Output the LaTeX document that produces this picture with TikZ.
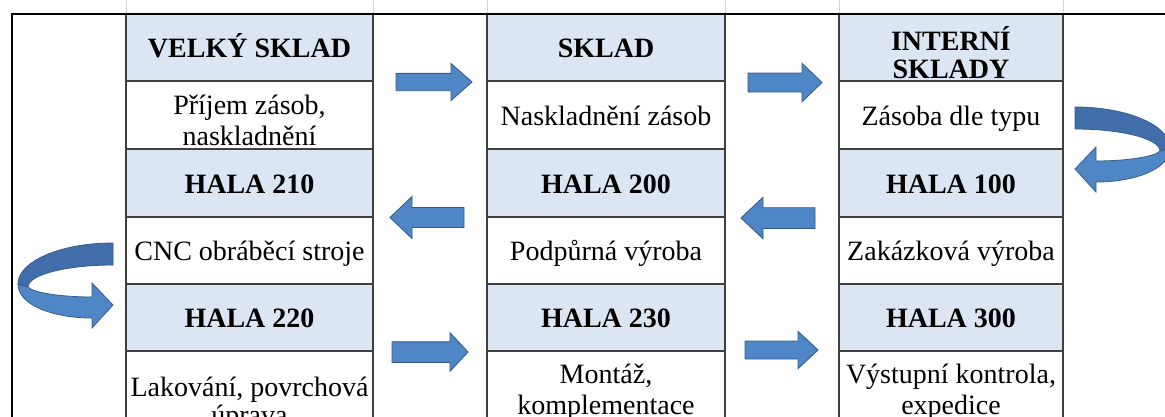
\documentclass[tikz,border=0pt]{standalone}
\usepackage{fontspec}
\setmainfont{Liberation Serif}
\definecolor{cellblue}{RGB}{220,230,242}
\definecolor{gridc}{RGB}{64,64,64}
\definecolor{arrowfill}{RGB}{79,134,198}
\definecolor{arrowdark}{RGB}{63,110,170}
\definecolor{arrowline}{RGB}{56,93,138}
\definecolor{faint}{RGB}{215,215,215}
\tikzset{
  cellline/.style={draw=gridc, line width=1.1pt},
  frameline/.style={draw=black, line width=2.6pt},
  faintline/.style={draw=faint, line width=0.6pt},
  txt/.style={anchor=base, inner sep=0pt, font=\fontsize{28}{30}\selectfont},
  btxt/.style={anchor=base, inner sep=0pt, font=\fontsize{28}{30}\selectfont\bfseries},
  blockarrow/.style={fill=arrowfill, draw=arrowline, line width=0.9pt, line join=miter},
  backband/.style={fill=arrowdark, draw=arrowline, line width=0.8pt},
  frontband/.style={fill=arrowfill, draw=arrowline, line width=0.8pt},
}
% tail x, tip x, centre y, shaft half height, head half height, head base x
\newcommand{\blockarr}[6]{%
  \path[blockarrow] ({#1},{#3-#4}) -- ({#6},{#3-#4}) -- ({#6},{#3-#5}) -- ({#2},{#3})
    -- ({#6},{#3+#5}) -- ({#6},{#3+#4}) -- ({#1},{#3+#4}) -- cycle;}
\newcommand{\uturnarr}{%
  \path[backband] (0,0) .. controls (-52.5,0) and (-95,18.4) .. (-95,41)
    -- (-85,44) .. controls (-85,31.8) and (-46.9,22) .. (0,22) -- cycle;
  \path[frontband] (-95,41) .. controls (-95,62) and (-60,75) .. (-21,75)
    -- (-21,85) -- (0,62) -- (-21,40) -- (-21,54)
    .. controls (-50,54) and (-80,50) .. (-85,44) -- cycle;}
\begin{document}
\begin{tikzpicture}[x=1pt,y=-1pt]
\useasboundingbox (0,0) rectangle (1165,416);
\clip (0,0) rectangle (1165,416);
\fill[white] (0,0) rectangle (1165,416);
% faint sheet grid above the frame
\foreach \x in {126,373,487,725,839,1063} \draw[faintline] (\x,0) -- (\x,14);
% blue header cells
\foreach \xl/\xr in {126/373,487/725,839/1063}{
  \foreach \yt/\yb in {14/81,149/217,284/351}{
    \fill[cellblue] (\xl,\yt) rectangle (\xr,\yb);
  }
  \draw[cellline] (\xl,14) -- (\xl,420);
  \draw[cellline] (\xr,14) -- (\xr,420);
  \foreach \y in {81,149,217,284,351} \draw[cellline] (\xl,\y) -- (\xr,\y);
}
% outer frame
\draw[frameline] (12,420) -- (12,14) -- (1170,14);
% column 1
\node[btxt] (velky) at (249.5,57) {VELKÝ SKLAD};
\node[txt] (prijem1) at (249.5,114) {Příjem zásob,};
\node[txt] (prijem2) at (249.5,145) {naskladnění};
\node[btxt] (h210) at (249.5,193) {HALA 210};
\node[txt] (cnc) at (249.5,260) {CNC obráběcí stroje};
\node[btxt] (h220) at (249.5,327.5) {HALA 220};
\node[txt] (lak1) at (249.5,396) {Lakování, povrchová};
\node[txt] (lak2) at (249.5,424) {úprava};
% column 2
\node[btxt] (sklad) at (606,57) {SKLAD};
\node[txt] (nask) at (606,125) {Naskladnění zásob};
\node[btxt] (h200) at (606,193) {HALA 200};
\node[txt] (podp) at (606,260) {Podpůrná výroba};
\node[btxt] (h230) at (606,327.5) {HALA 230};
\node[txt] (mont1) at (606,383) {Montáž,};
\node[txt] (mont2) at (606,414) {komplementace};
% column 3
\node[btxt] (int1) at (951,50) {INTERNÍ};
\node[btxt] (int2) at (951,78) {SKLADY};
\node[txt] (zas) at (951,125) {Zásoba dle typu};
\node[btxt] (h100) at (951,193) {HALA 100};
\node[txt] (zak) at (951,260) {Zakázková výroba};
\node[btxt] (h300) at (951,327.5) {HALA 300};
\node[txt] (vyst1) at (951,383) {Výstupní kontrola,};
\node[txt] (vyst2) at (951,414) {expedice};
% straight block arrows
\blockarr{396}{472}{82}{8.7}{18.5}{451}
\blockarr{748}{822}{82.5}{9.5}{19.3}{802}
\blockarr{464}{390}{217.5}{10}{21}{412}
\blockarr{815}{741}{218}{10.3}{20.7}{763}
\blockarr{392}{468}{352}{10.3}{19.3}{450}
\blockarr{745}{818}{350}{9}{18.7}{798}
% U-turn arrows
\begin{scope}[shift={(113,243)}]
  \uturnarr
\end{scope}
\begin{scope}[shift={(1075,107)}, xscale=-1]
  \uturnarr
\end{scope}
\end{tikzpicture}
\end{document}
